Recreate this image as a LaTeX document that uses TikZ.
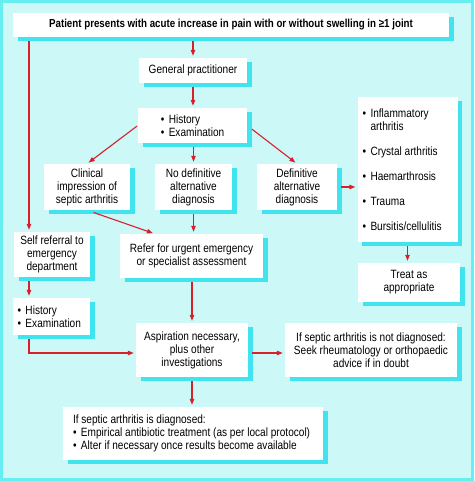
\documentclass[tikz,border=0pt]{standalone}
\usepackage{fontspec}
\setmainfont{Liberation Sans}[FakeStretch=0.84]
\usetikzlibrary{arrows.meta,shadows,calc}
\definecolor{bgc}{HTML}{CCF8F8}
\definecolor{framec}{HTML}{66EEF0}
\definecolor{shadc}{HTML}{3FE4EE}
\definecolor{arrc}{HTML}{D8202C}
\tikzset{
  box/.style={fill=white, inner sep=0pt, align=center, font=\fontsize{12}{13}\selectfont,
    drop shadow={opacity=1, fill=shadc, shadow xshift=4.5pt, shadow yshift=-4pt}},
  arr/.style={draw=arrc, line width=1.1pt, -{Triangle[length=6pt,width=4.5pt]}, shorten <=4pt, shorten >=2pt}
}
\newcommand{\bul}{\makebox[8pt][l]{•}}
\newcommand{\nsp}{\spaceskip=0pt\xspaceskip=0pt\relax}
\begin{document}
\begin{tikzpicture}[x=1pt,y=-1pt]
\useasboundingbox (0,0) rectangle (474,481);
\fill[bgc] (0,0) rectangle (474,481);
\draw[framec, line width=2.5pt] (1.5,1.5) rectangle (472.5,479.5);
% boxes
\node[box, minimum width=436pt, minimum height=24pt, font=\fontsize{11.6}{13}\selectfont\bfseries] (top) at (231,25) {Patient presents with acute increase in pain with or without swelling in ≥1 joint};
\node[box, minimum width=108pt, minimum height=25pt] (gp) at (193,70.5) {General practitioner};
\node[box, minimum width=109pt, minimum height=35pt, align=left] (hist) at (192.5,125.5) {\bul History\\\bul Examination};
\node[box, minimum width=86pt, minimum height=46pt] (clin) at (87,187) {Clinical\\impression of\\septic arthritis};
\node[box, minimum width=77pt, minimum height=46pt] (nodef) at (193.5,187) {No definitive\\alternative\\diagnosis};
\node[box, minimum width=80pt, minimum height=46pt] (def) at (297,187) {Definitive\\alternative\\diagnosis};
\node[box, minimum width=100pt, minimum height=145pt, align=left, text width=90pt] (list) at (407.5,169.5) {\nsp\bul Inflammatory\\\hspace*{8pt}arthritis\\[12pt]\bul Crystal arthritis\\[12pt]\bul Haemarthrosis\\[12pt]\bul Trauma\\[12pt]\bul Bursitis/cellulitis};
\node[box, minimum width=102pt, minimum height=39pt] (treat) at (409,282.5) {Treat as\\appropriate};
\node[box, minimum width=76pt, minimum height=45pt] (self) at (52,254.5) {Self referral to\\emergency\\department};
\node[box, minimum width=143pt, minimum height=44pt] (refer) at (191.5,256) {Refer for urgent emergency\\or specialist assessment};
\node[box, minimum width=77pt, minimum height=37pt, align=left, text width=68pt] (lhist) at (51.5,316.5) {\nsp\bul History\\\bul Examination};
\node[box, minimum width=112pt, minimum height=54pt] (asp) at (192,350) {Aspiration necessary,\\plus other\\investigations};
\node[box, minimum width=172pt, minimum height=54pt] (nd) at (371,350) {If septic arthritis is not diagnosed:\\Seek rheumatology or orthopaedic\\advice if in doubt};
\node[box, minimum width=260pt, minimum height=53pt, align=left, text width=240pt] (diag) at (193,433.5) {\nsp If septic arthritis is diagnosed:\\\bul Empirical antibiotic treatment (as per local protocol)\\\bul Alter if necessary once results become available};
% connectors
\coordinate (leftx) at (29,0);
\draw[arr] (top.south -| gp.north) -- (gp.north);
\draw[arr] (gp.south) -- (hist.north -| gp.south);
\draw[arr, shorten <=1pt] (hist.west) -- (clin.north);
\draw[arr] (hist.south -| nodef.north) -- (nodef.north);
\draw[arr, shorten <=6pt] (hist.east) -- (def.north);
\draw[arr, shorten <=7pt] (clin.south) -- ($(refer.north west)+(35,0)$);
\draw[arr] (nodef.south) -- (refer.north -| nodef.south);
\draw[arr] (def.east) -- (def.east -| list.west);
\draw[arr] (list.south) -- (treat.north -| list.south);
\draw[arr] (top.south -| leftx) -- (self.north -| leftx);
\draw[arr] (self.south -| leftx) -- (lhist.north -| leftx);
\draw[arr] (lhist.south -| leftx) |- ($(asp.west)+(0,3)$);
\draw[arr] (refer.south -| asp.north) -- (asp.north);
\draw[arr] ($(asp.east)+(0,3)$) -- ($(asp.east -| nd.west)+(0,3)$);
\draw[arr] (asp.south) -- (diag.north -| asp.south);
\end{tikzpicture}
\end{document}
